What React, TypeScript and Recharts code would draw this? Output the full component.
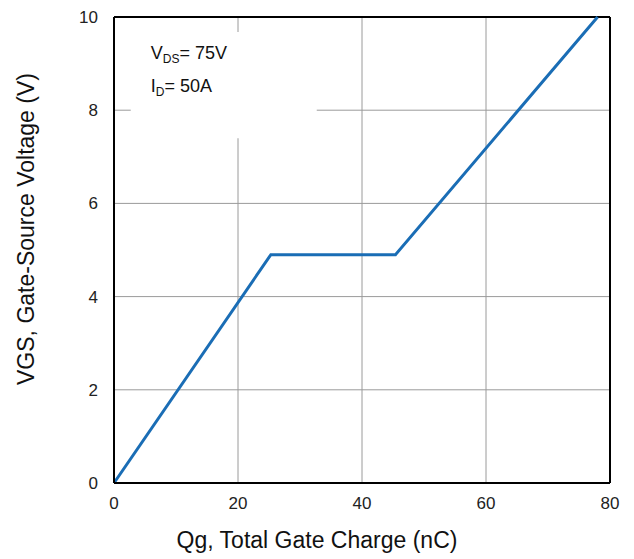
import React from "react";
import {
  LineChart,
  Line,
  XAxis,
  YAxis,
  CartesianGrid,
  ReferenceArea,
  ReferenceLine,
} from "recharts";

// gate charge curve (nC, V)
const qg = [0, 25.3, 45.4, 78];
const vgs = [0, 4.9, 4.9, 10];
const xTicks = [0, 20, 40, 60, 80];
const yTicks = [0, 2, 4, 6, 8, 10];

const data = qg.map((q, i) => ({ q, v: vgs[i] }));

const FONT = "'Liberation Sans', Arial, sans-serif";

function NoteLabel(props: any) {
  const { viewBox } = props;
  const x = viewBox.x + 20;
  const y = viewBox.y;
  return (
    <g fontFamily={FONT} fill="#111">
      <text x={x} y={y + 27} fontSize={18}>
        V<tspan fontSize={12} dy={4}>DS</tspan>
        <tspan dy={-4}>= 75V</tspan>
      </text>
      <text x={x} y={y + 60} fontSize={18}>
        I<tspan fontSize={12} dy={4}>D</tspan>
        <tspan dy={-4}>= 50A</tspan>
      </text>
    </g>
  );
}

function XTitle(props: any) {
  const { viewBox } = props;
  return (
    <text
      x={viewBox.x + viewBox.width / 2 - 45}
      y={548}
      textAnchor="middle"
      fontFamily={FONT}
      fontSize={23}
      fill="#111"
    >
      Qg, Total Gate Charge (nC)
    </text>
  );
}

function YTitle() {
  return (
    <text
      x={0}
      y={0}
      transform="translate(34, 229) rotate(-90)"
      textAnchor="middle"
      fontFamily={FONT}
      fontSize={23}
      fill="#111"
    >
      VGS, Gate-Source Voltage (V)
    </text>
  );
}

export default function App() {
  return (
    <div style={{ position: "absolute", left: 0, top: 0, background: "#fff" }}>
      <LineChart
        width={634}
        height={559}
        data={data}
        margin={{ top: 17, right: 24, left: 0, bottom: 0 }}
      >
        <CartesianGrid stroke="#9a9a9a" strokeWidth={1} />
        <XAxis
          dataKey="q"
          type="number"
          domain={[0, 80]}
          ticks={xTicks}
          height={76}
          stroke="#000"
          strokeWidth={2}
          tickLine={false}
          tick={{ fill: "#222", fontSize: 17, fontFamily: FONT, dy: 6 }}
          label={<XTitle />}
        />
        <YAxis
          type="number"
          domain={[0, 10]}
          ticks={yTicks}
          width={114}
          stroke="#000"
          strokeWidth={2}
          tickLine={false}
          tick={{ fill: "#222", fontSize: 17, fontFamily: FONT, dx: -8 }}
          label={<YTitle />}
        />
        <ReferenceLine y={10} stroke="#000" strokeWidth={2} />
        <ReferenceLine x={80} stroke="#000" strokeWidth={2} />
        <ReferenceArea
          x1={2.7}
          x2={32.7}
          y1={7.4}
          y2={9.68}
          fill="#fff"
          fillOpacity={1}
          stroke="none"
          label={<NoteLabel />}
        />
        <Line
          dataKey="v"
          stroke="#1a6db5"
          strokeWidth={3}
          dot={false}
          isAnimationActive={false}
        />
      </LineChart>
    </div>
  );
}
